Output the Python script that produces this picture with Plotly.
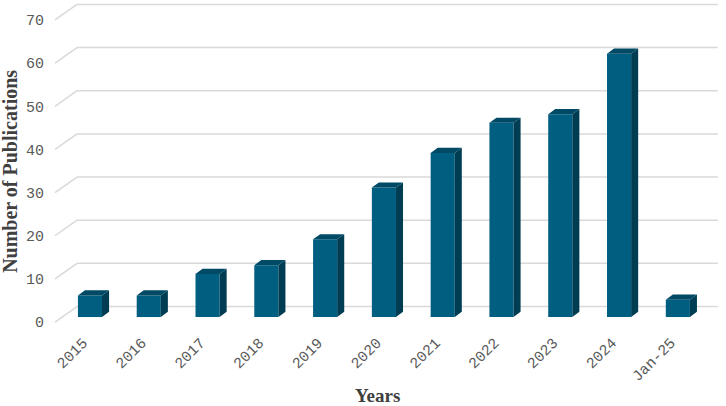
import plotly.graph_objects as go

# ---- data ----
categories = ["2015", "2016", "2017", "2018", "2019", "2020",
              "2021", "2022", "2023", "2024", "Jan-25"]
publications = [5, 5, 10, 12, 18, 30, 38, 45, 47, 61, 4]
y_ticks = [0, 10, 20, 30, 40, 50, 60, 70]
y_tick_labels = [str(v) for v in y_ticks]

# ---- 3D styling constants (in axis units) ----
BAR_W = 0.41
DEPTH_X = 0.12
DEPTH_Y = 1.2
BACK_X0 = -0.22
FRONT_X0 = -0.595
BACK_X1 = 10.68
BACK_DY = 2.44
FRONT_DY = -1.16

FRONT_COLOR = "#005E80"
SIDE_COLOR = "#003D53"
TOP_COLOR = "#004A65"
GRID_COLOR = "#D9D9D9"
TICK_COLOR = "#595959"
TITLE_COLOR = "#404040"

xpos = list(range(len(categories)))

fig = go.Figure()

# front faces
fig.add_trace(go.Bar(
    x=xpos, y=publications, width=BAR_W,
    marker=dict(color=FRONT_COLOR, line=dict(width=0)),
    hovertext=categories, hoverinfo="text+y", showlegend=False,
))

# side faces
sx, sy = [], []
for i, v in zip(xpos, publications):
    r = i + BAR_W / 2
    sx += [r, r + DEPTH_X, r + DEPTH_X, r, r, None]
    sy += [0, DEPTH_Y, v + DEPTH_Y, v, 0, None]
fig.add_trace(go.Scatter(
    x=sx, y=sy, mode="lines", fill="toself", fillcolor=SIDE_COLOR,
    line=dict(width=0, color=SIDE_COLOR), hoverinfo="skip", showlegend=False,
))

# top faces
tx, ty = [], []
for i, v in zip(xpos, publications):
    l = i - BAR_W / 2
    r = i + BAR_W / 2
    tx += [l, r, r + DEPTH_X, l + DEPTH_X, l, None]
    ty += [v, v, v + DEPTH_Y, v + DEPTH_Y, v, None]
fig.add_trace(go.Scatter(
    x=tx, y=ty, mode="lines", fill="toself", fillcolor=TOP_COLOR,
    line=dict(width=0, color=TOP_COLOR), hoverinfo="skip", showlegend=False,
))

# gridlines: back wall + floor-side diagonals
shapes = []
for g in y_ticks:
    shapes.append(dict(type="line", xref="x", yref="y", layer="below",
                       x0=BACK_X0, y0=g + BACK_DY, x1=BACK_X1, y1=g + BACK_DY,
                       line=dict(color=GRID_COLOR, width=1.5)))
    shapes.append(dict(type="line", xref="x", yref="y", layer="below",
                       x0=FRONT_X0, y0=g + FRONT_DY, x1=BACK_X0, y1=g + BACK_DY,
                       line=dict(color=GRID_COLOR, width=1.5)))

tick_font = dict(family="Liberation Mono", size=15, color=TICK_COLOR)

fig.update_layout(
    width=726, height=406,
    margin=dict(l=45, r=7, t=2, b=76),
    paper_bgcolor="white", plot_bgcolor="white",
    shapes=shapes,
    xaxis=dict(range=[-0.765, 10.7], tickmode="array", tickvals=xpos,
               ticktext=categories, tickangle=-45, tickfont=tick_font,
               ticklabelshift=-7,
               showgrid=False, zeroline=False, showline=False, ticks=""),
    yaxis=dict(range=[-3, 73], tickmode="array",
               tickvals=[g + FRONT_DY for g in y_ticks], ticktext=y_tick_labels,
               tickfont=tick_font, showgrid=False, zeroline=False,
               showline=False, ticks=""),
    annotations=[
        dict(text="Years", xref="paper", yref="paper", x=0.494, y=-0.201,
             xanchor="center", yanchor="middle", showarrow=False,
             font=dict(family="Liberation Serif", size=19, color=TITLE_COLOR,
                       weight="bold")),
        dict(text="Number of Publications", xref="paper", yref="paper",
             x=-0.052, y=0.485, xanchor="center", yanchor="middle",
             textangle=-90, showarrow=False,
             font=dict(family="Liberation Serif", size=20, color=TITLE_COLOR,
                       weight="bold")),
    ],
)

fig.write_html(
    "out.html",
    config={"displayModeBar": False},
    post_script="document.body.style.margin='0px';document.body.style.overflow='hidden';",
)
